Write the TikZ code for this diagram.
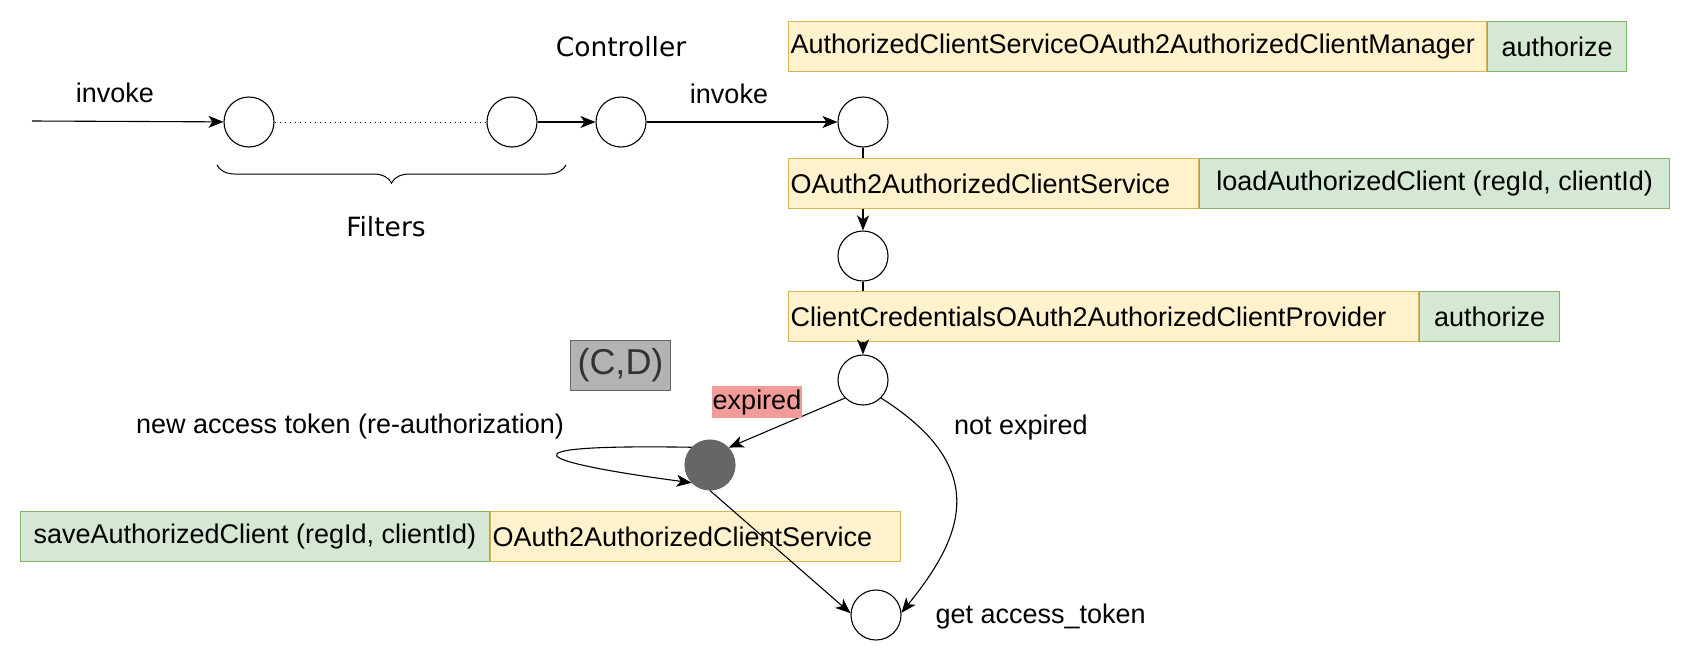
\documentclass[tikz,border=0pt]{standalone}
\usepackage{fontspec}
\setmainfont{Liberation Sans}
\newfontfamily\labelfont{DejaVu Sans}
\usetikzlibrary{positioning, arrows.meta, decorations.pathreplacing}

\definecolor{clsfill}{HTML}{FFF2CC}
\definecolor{clsline}{HTML}{D6B656}
\definecolor{opfill}{HTML}{D5E8D4}
\definecolor{opline}{HTML}{82B366}
\definecolor{cdfill}{HTML}{B3B3B3}
\definecolor{cdline}{HTML}{666666}
\definecolor{cdtext}{HTML}{333333}
\definecolor{expfill}{HTML}{F19C99}
\definecolor{reauthfill}{HTML}{666666}

\begin{document}
\begin{tikzpicture}[x=1pt, y=-1pt, line width=1.1pt,
		>={Stealth[length=15pt, width=12pt, inset=4pt]},
		every node/.style={font=\fontsize{27}{32}\selectfont},
		sectlabel/.style={font=\labelfont\fontsize{26.5}{32}\selectfont},
		state/.style={circle, draw, fill=white, minimum size=50pt, inner sep=0pt},
		clsbox/.style={draw=clsline, fill=clsfill, minimum height=50pt, inner xsep=2pt, inner ysep=0pt, align=left, anchor=north west},
		opbox/.style={draw=opline, fill=opfill, minimum height=50pt, inner sep=0pt}]

		\useasboundingbox (0,0) rectangle (1690,662);

		% Фильтры и контроллер
		\coordinate (in) at (32,121);
		\node[state] (f1) at (249,122) {};
		\node[state] (fn) at (512,122) {};
		\node[state] (ctrl) at (621,122) {};
		\node[state] (mgr) at (863,122) {};

		\draw[->] (in) -- (f1);
		\draw[line width=1pt, dash pattern=on 1.5pt off 3.5pt] (f1) -- (fn);
		\draw[->] (fn) -- (ctrl);
		\draw[->] (ctrl) -- (mgr);

		\node (invokein) at (115,93) {invoke};
		\node (invokectrl) at (729,94) {invoke};
		\node[sectlabel] (ctrllabel) at (621,47) {Controller};

		\coordinate (bracel) at (217,165);
		\coordinate (bracer) at (566,165);
		\draw[decorate, decoration={brace, amplitude=18pt}, line width=1pt] (bracer) -- (bracel);
		\node[sectlabel] (filters) at (386,227) {Filters};

		% Классы и методы
		\node[clsbox, text width=694pt] (mgrcls) at (788,21) {AuthorizedClientServiceOAuth2AuthorizedClientManager};
		\node[opbox, minimum width=139pt, right=0pt of mgrcls] (mgrop) {authorize};

		\node[clsbox, text width=406pt] (svccls) at (788,158) {OAuth2AuthorizedClientService};
		\node[opbox, minimum width=470pt, right=0pt of svccls] (svcop) {loadAuthorizedClient (regId, clientId)};

		\node[clsbox, text width=626pt] (provcls) at (788,291) {ClientCredentialsOAuth2AuthorizedClientProvider};
		\node[opbox, minimum width=140pt, right=0pt of provcls] (provop) {authorize};

		\node[clsbox, text width=406pt] (savecls) at (490,511) {OAuth2AuthorizedClientService};
		\node[opbox, minimum width=469pt, left=0pt of savecls] (saveop) {saveAuthorizedClient (regId, clientId)};

		\node[state] (svc) at (863,256) {};
		\node[state] (prov) at (863,380) {};
		\node[state, draw=reauthfill, fill=reauthfill] (reauth) at (710,465) {};
		\node[state] (tok) at (876,615) {};

		\draw (mgr) -- (mgr |- svccls.north);
		\draw[->] (svccls.south -| svc) -- (svc);
		\draw (svc) -- (svc |- provcls.north);
		\draw[->] (provcls.south -| prov) -- (prov);

		\draw[->] (prov.225) -- (reauth.43);
		\draw[->] (reauth.136) .. controls (492,444) and (535,462) .. (reauth.224);
		\draw[->] (reauth.south) -- (tok.176);
		\draw[->] (prov.-45) .. controls (995,470) and (960,540) .. (tok.5);

		\node[draw=cdline, fill=cdfill, text=cdtext, minimum width=100pt, minimum height=50pt, inner sep=0pt, font=\fontsize{36}{40}\selectfont] (cd) at (620.5,365.3) {(C,D)};
		\node[fill=expfill, inner xsep=0.5pt, inner ysep=3pt, text height=20pt, text depth=6pt] (expired) at (757,402) {expired};
		\node (newtoken) at (350,427) {new access token (re-authorization)};
		\node (notexpired) at (1021,428) {not expired};
		\node[anchor=west, inner sep=0pt] (gettoken) at (935,617) {get access\_token};
	\end{tikzpicture}
\end{document}
